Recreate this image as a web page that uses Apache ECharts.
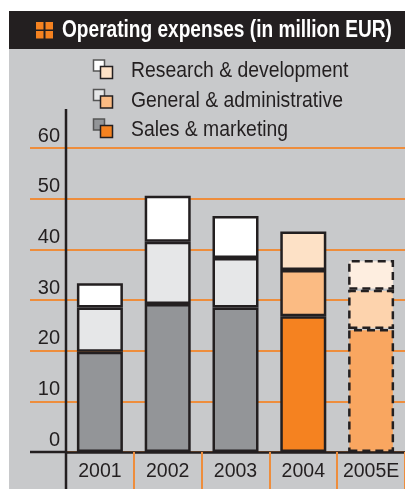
<!DOCTYPE html>
<html>
<head>
<meta charset="utf-8">
<script src="https://cdn.jsdelivr.net/npm/echarts@6/dist/echarts.min.js"></script>
<style>
  html, body {margin: 0; padding: 0; background: #fff;}
  #chart {width: 405px; height: 489px;}
</style>
</head>
<body>
<div id="chart"></div>
<script>
const years = ["2001", "2002", "2003", "2004", "2005E"]
const salesMarketing = [19.8, 29.2, 28.5, 26.8, 24.3]
const generalAdmin = [8.7, 12.3, 9.8, 9.1, 7.7]
const researchDev = [4.8, 9.1, 8.3, 7.6, 5.9]
const seriesNames = ["Sales & marketing", "General & administrative", "Research & development"]
const yTicks = [0, 10, 20, 30, 40, 50, 60]

const font = "'Liberation Sans', Arial, sans-serif"
const ink = "#231f20"
const orange = "#ee8d3c"

// colours per series, per year (grey for actuals, orange for 2004, pale orange for estimate)
const palette = [
  ["#939598", "#939598", "#939598", "#f58220", "#f9a660"],
  ["#e6e7e8", "#e6e7e8", "#e6e7e8", "#fbbb83", "#fdd3ad"],
  ["#ffffff", "#ffffff", "#ffffff", "#fde1c6", "#feeee0"],
]

const makeSeries = (name, values, idx) => ({
  name,
  type: "bar",
  stack: "opex",
  barWidth: 46,
  z: 3,
  data: values.map((v, i) => ({
    value: v,
    itemStyle: {
      color: palette[idx][i],
      borderColor: ink,
      borderWidth: 2.5,
      borderType: years[i].endsWith("E") ? [8, 5] : "solid",
    },
  })),
})

// legend: two overlapping squares + label (text squeezed to look condensed)
const legendIcons = [
  {back: "#ffffff", front: "#fde1c6"},
  {back: "#e6e7e8", front: "#fbbb83"},
  {back: "#939598", front: "#f58220"},
]
const legendLabels = ["Research & development", "General & administrative", "Sales & marketing"]
const legendGraphics = []
legendLabels.forEach((txt, i) => {
  const y0 = 60 + i * 29.5
  legendGraphics.push({
    type: "rect", z: 20,
    shape: {x: 93.5, y: y0, width: 11, height: 11},
    style: {fill: legendIcons[i].back, stroke: "#555", lineWidth: 1.5},
  })
  legendGraphics.push({
    type: "rect", z: 21,
    shape: {x: 100.5, y: y0 + 6.5, width: 12, height: 12},
    style: {fill: legendIcons[i].front, stroke: ink, lineWidth: 1.5},
  })
  legendGraphics.push({
    type: "text", z: 21, x: 131, y: y0 + 11, scaleX: 0.88,
    style: {text: txt, fill: ink, font: "22px " + font, verticalAlign: "middle"},
  })
})

const chart = echarts.init(document.getElementById("chart"))
chart.setOption({
  backgroundColor: "#ffffff",
  animation: false,
  grid: {left: 66, right: 0, top: 148, bottom: 37},
  xAxis: {
    type: "category",
    data: years,
    axisLine: {show: true, lineStyle: {color: ink, width: 2.5}},
    axisTick: {show: true, length: 37, interval: 0, lineStyle: {color: orange, width: 2}},
    axisLabel: {color: ink, fontSize: 19.5, fontFamily: font, margin: 10, interval: 0},
    z: 4,
  },
  yAxis: {
    type: "value",
    min: 0,
    max: 60,
    interval: 10,
    axisLine: {show: false},
    axisTick: {show: true, length: 36, lineStyle: {color: orange, width: 2}},
    splitLine: {show: true, lineStyle: {color: orange, width: 2}},
    axisLabel: {
      color: ink, fontSize: 20, fontFamily: font, margin: 6,
      verticalAlign: "bottom", lineHeight: 24,
      formatter: (v) => yTicks.includes(v) ? String(v) : "",
    },
  },
  series: [
    makeSeries(seriesNames[0], salesMarketing, 0),
    makeSeries(seriesNames[1], generalAdmin, 1),
    makeSeries(seriesNames[2], researchDev, 2),
  ],
  graphic: [
    {type: "rect", z: -10, silent: true, shape: {x: 9, y: 49, width: 396, height: 440}, style: {fill: "#c8c9cb"}},
    {type: "rect", z: -10, silent: true, shape: {x: 9, y: 11, width: 396, height: 38}, style: {fill: ink}},
    // title icon
    {type: "rect", z: 5, shape: {x: 36, y: 22, width: 7.5, height: 7.5}, style: {fill: "#f58220"}},
    {type: "rect", z: 5, shape: {x: 45.5, y: 22, width: 7.5, height: 7.5}, style: {fill: "#f58220"}},
    {type: "rect", z: 5, shape: {x: 36, y: 31, width: 7.5, height: 7.5}, style: {fill: "#f58220"}},
    {type: "rect", z: 5, shape: {x: 45.5, y: 31, width: 7.5, height: 7.5}, style: {fill: "#f58220"}},
    {
      type: "text", z: 5, x: 62, y: 31, scaleX: 0.83,
      style: {text: "Operating expenses (in million EUR)", fill: "#ffffff", font: "bold 23px " + font, verticalAlign: "middle"},
    },
    // vertical axis line running through the label strip
    {type: "line", z: 10, shape: {x1: 66, y1: 109, x2: 66, y2: 489}, style: {stroke: ink, lineWidth: 2.5}},
    // base line continues left of the axis
    {type: "line", z: 10, shape: {x1: 30, y1: 452, x2: 66, y2: 452}, style: {stroke: ink, lineWidth: 2.5}},
    ...legendGraphics,
  ],
})
</script>
</body>
</html>
